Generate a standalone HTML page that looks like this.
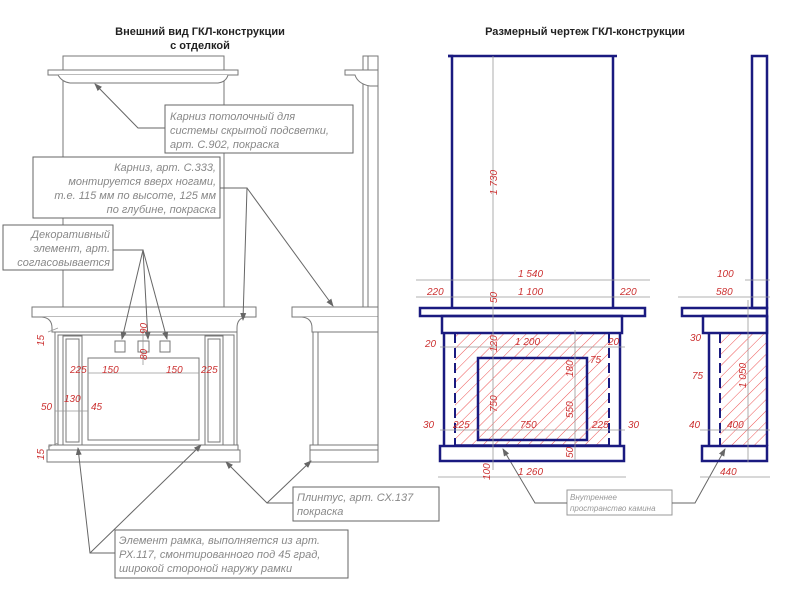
<!DOCTYPE html>
<html><head><meta charset="utf-8"><style>
html,body{margin:0;padding:0;background:#fff}
svg{display:block}
.t{font-family:"Liberation Sans",sans-serif;font-weight:bold;font-size:11px;fill:#222}
.c{font-family:"Liberation Sans",sans-serif;font-style:italic;font-size:11px;fill:#888}
.s{font-family:"Liberation Sans",sans-serif;font-style:italic;font-size:8px;fill:#999}
.d{font-family:"Liberation Sans",sans-serif;font-style:italic;font-size:10px;fill:#c33}
.g{stroke:#777;fill:none;stroke-width:1}
.gl{stroke:#777;fill:#fff;stroke-width:1}
.b{stroke:#1a1a80;fill:none;stroke-width:2.5}
.dm{stroke:#999;stroke-width:0.8;fill:none}
</style></head><body>
<svg width="800" height="598" viewBox="0 0 800 598" xmlns="http://www.w3.org/2000/svg">
<defs>
<pattern id="h" width="8" height="8" patternUnits="userSpaceOnUse" patternTransform="rotate(45)">
<line x1="0" y1="0" x2="0" y2="8" stroke="#e55" stroke-width="1"/></pattern>
<marker id="a" markerWidth="8" markerHeight="8" refX="7" refY="4" orient="auto"><path d="M0,1 L8,4 L0,7 z" fill="#666"/></marker>
</defs>
<text class="t" x="200" y="35" text-anchor="middle">Внешний вид ГКЛ-конструкции</text>
<text class="t" x="200" y="49" text-anchor="middle">с отделкой</text>
<text class="t" x="585" y="35" text-anchor="middle">Размерный чертеж ГКЛ-конструкции</text>

<!-- LEFT FRONT VIEW -->
<g class="g">
<rect x="63" y="56" width="161" height="251"/>
<rect x="48" y="70" width="190" height="5" class="gl"/>
<path d="M58,75 Q62,82 70,83 L218,83 Q226,82 228,75" class="gl"/>
<rect x="32" y="307" width="224" height="10" class="gl"/>
<path d="M42,317 Q52,318 52,328 L52,332 L237,332 L237,328 Q237,318 246,317" class="gl"/>
<rect x="55" y="332" width="182" height="113"/>
<rect x="58" y="335" width="176" height="110"/>
<rect x="63" y="336" width="19" height="109"/>
<rect x="66" y="339" width="13" height="103"/>
<rect x="205" y="336" width="18" height="109"/>
<rect x="208" y="339" width="12" height="103"/>
<rect x="88" y="358" width="111" height="82"/>
<rect x="115" y="341" width="10" height="11"/>
<rect x="138" y="341" width="11" height="11"/>
<rect x="160" y="341" width="10" height="11"/>
<rect x="49" y="445" width="189" height="5" class="gl"/>
<rect x="47" y="450" width="193" height="12" class="gl"/>
</g>
<!-- left side view -->
<g class="g">
<rect x="363" y="56" width="15" height="251"/>
<line x1="368" y1="56" x2="368" y2="307"/>
<path d="M345,70 L378,70 L378,86 L370,86 Q358,84 355,75 L345,75 z" class="gl"/>
<rect x="292" y="307" width="86" height="10" class="gl"/>
<path d="M302,317 Q312,318 312,328 L312,332 L378,332 L378,317" class="gl"/>
<rect x="313" y="332" width="65" height="113"/>
<line x1="318" y1="332" x2="318" y2="445"/>
<rect x="310" y="445" width="68" height="17" class="gl"/>
<line x1="310" y1="450" x2="378" y2="450"/>
</g>
<!-- left dims -->
<g class="dm">
<line x1="88" y1="373" x2="199" y2="373"/>
<line x1="55" y1="411" x2="88" y2="411"/>
<line x1="143" y1="330" x2="143" y2="365"/>
<line x1="48" y1="332" x2="58" y2="328"/><line x1="48" y1="447" x2="58" y2="443"/>
</g>
<text class="d" x="70" y="373">225</text><text class="d" x="102" y="373">150</text>
<text class="d" x="166" y="373">150</text><text class="d" x="201" y="373">225</text>
<text class="d" x="41" y="410">50</text><text class="d" x="64" y="402">130</text><text class="d" x="91" y="410">45</text>
<text class="d" transform="translate(147,360) rotate(-90)">80</text>
<text class="d" transform="translate(147,334) rotate(-90)">90</text>
<text class="d" transform="translate(44,346) rotate(-90)">15</text>
<text class="d" transform="translate(44,460) rotate(-90)">15</text>

<!-- callouts -->
<g stroke="#666" fill="none" stroke-width="1">
<rect x="165" y="105" width="188" height="48" fill="#fff"/>
<polyline points="165,128 138,128 95,84" marker-end="url(#a)"/>
<rect x="33" y="157" width="187" height="61" fill="#fff"/>
<polyline points="220,188 247,188 243,320" marker-end="url(#a)"/>
<line x1="247" y1="188" x2="333" y2="306" marker-end="url(#a)"/>
<rect x="3" y="225" width="110" height="45" fill="#fff"/>
<polyline points="113,250 143,250 122,339" marker-end="url(#a)"/>
<line x1="143" y1="250" x2="148" y2="339" marker-end="url(#a)"/>
<line x1="143" y1="250" x2="167" y2="339" marker-end="url(#a)"/>
<rect x="293" y="487" width="146" height="34" fill="#fff"/>
<polyline points="293,503 267,503 226,462" marker-end="url(#a)"/>
<line x1="267" y1="503" x2="311" y2="461" marker-end="url(#a)"/>
<rect x="115" y="530" width="233" height="48" fill="#fff"/>
<polyline points="115,553 90,553 78,448" marker-end="url(#a)"/>
<line x1="90" y1="553" x2="201" y2="445" marker-end="url(#a)"/>
<rect x="567" y="490" width="105" height="25" fill="#fff" stroke="#999"/>
<polyline points="567,503 535,503 503,449" marker-end="url(#a)"/>
<polyline points="672,503 695,503 725,449" marker-end="url(#a)"/>
</g>
<text class="c" x="170" y="120">Карниз потолочный для</text>
<text class="c" x="170" y="134">системы скрытой подсветки,</text>
<text class="c" x="170" y="148">арт. С.902, покраска</text>
<g text-anchor="end">
<text class="c" x="216" y="171">Карниз, арт. С.333,</text>
<text class="c" x="216" y="185">монтируется вверх ногами,</text>
<text class="c" x="216" y="199">т.е. 115 мм по высоте, 125 мм</text>
<text class="c" x="216" y="213">по глубине, покраска</text>
<text class="c" x="110" y="238">Декоративный</text>
<text class="c" x="110" y="252">элемент, арт.</text>
<text class="c" x="110" y="266">согласовывается</text>
</g>
<text class="c" x="297" y="501">Плинтус, арт. СХ.137</text>
<text class="c" x="297" y="515">покраска</text>
<text class="c" x="119" y="544">Элемент рамка, выполняется из арт.</text>
<text class="c" x="119" y="558">РХ.117, смонтированного под 45 град,</text>
<text class="c" x="119" y="572">широкой стороной наружу рамки</text>
<text class="s" x="570" y="500">Внутреннее</text>
<text class="s" x="570" y="511">пространство камина</text>

<!-- RIGHT FRONT -->
<rect x="455" y="333" width="155" height="112" fill="url(#h)"/>
<rect x="720" y="333" width="47" height="112" fill="url(#h)"/>
<g class="b">
<polyline points="448,56 452,56 452,308"/><line x1="448" y1="56" x2="617" y2="56"/><line x1="613" y1="56" x2="613" y2="308"/>
<rect x="420" y="308" width="225" height="8"/>
<rect x="442" y="316" width="180" height="17"/>
<line x1="444" y1="333" x2="444" y2="446"/><line x1="620" y1="333" x2="620" y2="446"/>
<line x1="455" y1="333" x2="455" y2="446" stroke-dasharray="10,5" stroke-width="2"/>
<line x1="609" y1="333" x2="609" y2="446" stroke-dasharray="10,5" stroke-width="2"/>
<line x1="455" y1="445" x2="610" y2="445" stroke-width="1.5"/>
<rect x="478" y="358" width="109" height="82"/>
<rect x="440" y="446" width="184" height="15"/>
<!-- side -->
<rect x="752" y="56" width="15" height="252"/>
<rect x="682" y="308" width="85" height="8"/>
<rect x="703" y="316" width="64" height="17"/>
<line x1="709" y1="333" x2="709" y2="446"/>
<line x1="720" y1="333" x2="720" y2="446" stroke-dasharray="10,5" stroke-width="2"/>
<line x1="767" y1="316" x2="767" y2="446"/>
<rect x="702" y="446" width="65" height="15"/>
</g>
<g class="dm">
<line x1="493" y1="56" x2="493" y2="470"/>
<line x1="416" y1="280" x2="650" y2="280"/>
<line x1="416" y1="297" x2="650" y2="297"/>
<line x1="440" y1="347" x2="625" y2="347"/>
<line x1="440" y1="430" x2="625" y2="430"/>
<line x1="575" y1="330" x2="575" y2="460"/>
<line x1="438" y1="477" x2="626" y2="477"/>
<line x1="678" y1="297" x2="770" y2="297"/>
<line x1="745" y1="280" x2="770" y2="280"/>
<line x1="700" y1="430" x2="770" y2="430"/>
<line x1="700" y1="477" x2="770" y2="477"/>
<line x1="748" y1="300" x2="748" y2="462"/>
</g>
<text class="d" x="518" y="277">1 540</text>
<text class="d" x="427" y="295">220</text><text class="d" x="518" y="295">1 100</text><text class="d" x="620" y="295">220</text>
<text class="d" x="425" y="347">20</text><text class="d" x="515" y="345">1 200</text><text class="d" x="608" y="345">20</text>
<text class="d" x="590" y="363">75</text>
<text class="d" x="423" y="428">30</text><text class="d" x="453" y="428">225</text><text class="d" x="520" y="428">750</text>
<text class="d" x="592" y="428">225</text><text class="d" x="628" y="428">30</text>
<text class="d" x="518" y="475">1 260</text>
<text class="d" x="717" y="277">100</text><text class="d" x="716" y="295">580</text>
<text class="d" x="690" y="341">30</text><text class="d" x="692" y="379">75</text>
<text class="d" x="689" y="428">40</text><text class="d" x="727" y="428">400</text>
<text class="d" x="720" y="475">440</text>
<g>
<text class="d" transform="translate(497,195) rotate(-90)">1 730</text>
<text class="d" transform="translate(497,303) rotate(-90)">50</text>
<text class="d" transform="translate(497,352) rotate(-90)">120</text>
<text class="d" transform="translate(497,412) rotate(-90)">750</text>
<text class="d" transform="translate(573,377) rotate(-90)">180</text>
<text class="d" transform="translate(573,418) rotate(-90)">550</text>
<text class="d" transform="translate(573,458) rotate(-90)">50</text>
<text class="d" transform="translate(490,480) rotate(-90)">100</text>
<text class="d" transform="translate(746,388) rotate(-90)">1 050</text>
</g>
</svg>
</body></html>
